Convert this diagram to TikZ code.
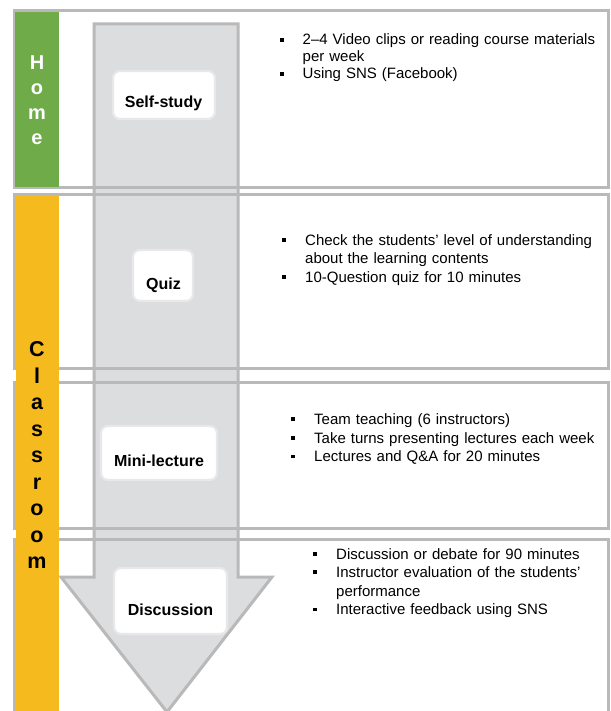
\documentclass[tikz,border=0pt]{standalone}
\usepackage{fontspec}
\setmainfont{Liberation Sans}
\definecolor{rowgray}{HTML}{B9B9B9}
\definecolor{arrowfill}{HTML}{DCDDDF}
\definecolor{glow}{HTML}{E8E8EA}
\definecolor{homegreen}{HTML}{6FAB48}
\definecolor{classyellow}{HTML}{F5BA1D}
\newcommand{\bitem}[1]{\par\noindent\hyphenpenalty=10000\exhyphenpenalty=10000\hangindent=23pt\hangafter=1\makebox[23pt][l]{\rule[3.4pt]{3.8pt}{3.8pt}}#1}
\begin{document}
\begin{tikzpicture}[x=1pt,y=-1pt,
  rowbox/.style={draw=rowgray, line width=3pt},
  arrowshape/.style={draw=rowgray, fill=arrowfill, line width=3pt, line join=miter},
  lblbox/.style={draw=glow, line width=2.2pt, fill=white, rounded corners=7pt, inner sep=0pt},
  lbltext/.style={font=\fontsize{16}{19}\selectfont\bfseries, anchor=base, inner sep=0pt},
  bultext/.style={anchor=base west, inner sep=0pt, align=left},
  sideletter/.style={anchor=base, inner sep=0pt, font=\bfseries}
]
\useasboundingbox (0,0) rectangle (610,711);
\fill[white] (0,0) rectangle (610,711);
\begin{scope}
\clip (0,0) rectangle (610,711);
% arrow
\draw[arrowshape] (94,24) -- (238,24) -- (238,577) -- (272,577) -- (167,712) -- (61,577) -- (94,577) -- cycle;
% row frames
\draw[rowbox] (14,11) rectangle (608,188);
\draw[rowbox] (14,195) rectangle (608,368);
\draw[rowbox] (14,382) rectangle (608,528);
\draw[rowbox] (14,539) rectangle (608,760);
% side bars
\fill[homegreen] (14.5,12.5) rectangle (59,187);
\fill[classyellow] (15.5,196.5) rectangle (59,711);
\end{scope}
% side letters
\foreach \ch [count=\i] in {H,o,m,e}
  \node[sideletter, text=white, font=\fontsize{20}{22}\selectfont\bfseries] (home\i) at (37,{70+25*(\i-1)}) {\ch};
\foreach \ch [count=\i] in {C,l,a,s,s,r,o,o,m}
  \node[sideletter, font=\fontsize{21.5}{24}\selectfont\bfseries] (cls\i) at (37,{356.7+26.5*(\i-1)}) {\ch};
% label boxes
\node[lblbox, minimum width=102pt, minimum height=48pt] (selfbox) at (164,95) {};
\node[lbltext] (selftxt) at (163.5,108) {Self-study};
\node[lblbox, minimum width=60pt, minimum height=51pt] (quizbox) at (163,275.5) {};
\node[lbltext] (quiztxt) at (163.5,289.5) {Quiz};
\node[lblbox, minimum width=116pt, minimum height=54pt] (minibox) at (159,453) {};
\node[lbltext] (minitxt) at (159,466.5) {Mini-lecture};
\node[lblbox, minimum width=113pt, minimum height=66pt] (discbox) at (170.5,601) {};
\node[lbltext] (disctxt) at (170.5,615) {Discussion};
% bullet texts
\node[bultext, text width=318pt, font=\fontsize{15}{17}\selectfont] (homelist) at (279.5,28)
  {\bitem{2–4 Video clips or reading course materials per week}\bitem{Using SNS (Facebook)}};
\node[bultext, text width=313pt, font=\fontsize{15}{18.5}\selectfont] (quizlist) at (282,226.5)
  {\bitem{Check the students’ level of understanding about the learning contents}\bitem{10-Question quiz for 10 minutes}};
\node[bultext, text width=308pt, font=\fontsize{15}{18.6}\selectfont] (minilist) at (291,405.9)
  {\bitem{Team teaching (6 instructors)}\bitem{Take turns presenting lectures each week}\bitem{Lectures and Q\&A for 20 minutes}};
\node[bultext, text width=272pt, font=\fontsize{15}{18.6}\selectfont] (disclist) at (313,540.4)
  {\bitem{Discussion or debate for 90 minutes}\bitem{Instructor evaluation of the students’ performance}\bitem{Interactive feedback using SNS}};
\end{tikzpicture}
\end{document}
